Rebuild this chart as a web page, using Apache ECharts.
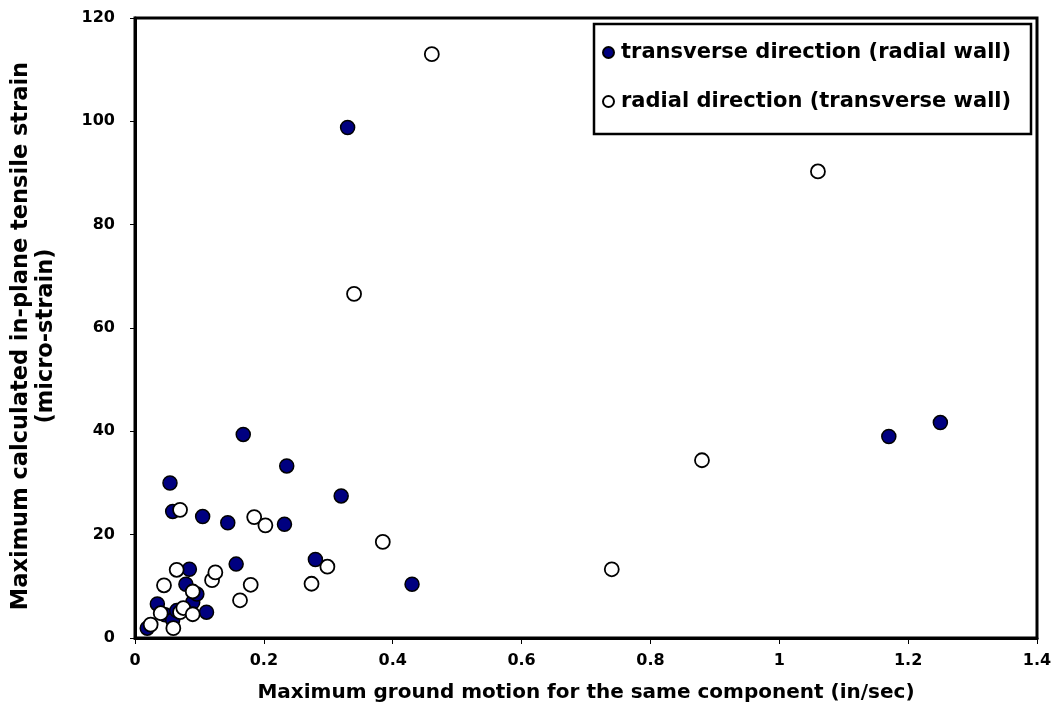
<!DOCTYPE html>
<html>
<head>
<meta charset="utf-8">
<script src="https://cdn.jsdelivr.net/npm/echarts@6/dist/echarts.min.js"></script>
<style>
html,body{margin:0;padding:0;background:#fff;}
#c{width:1055px;height:727px;}
</style>
</head>
<body>
<div id="c"></div>
<script>
// Series names
const seriesNames = ['transverse direction (radial wall)', 'radial direction (transverse wall)'];
// [ground motion (in/sec), strain (micro-strain)]
const transverseData = [
  [0.019,1.9],[0.0347,6.6],[0.0466,4.5],[0.0543,30.0],[0.0585,24.5],[0.0585,3.5],
  [0.0647,5.3],[0.079,10.4],[0.0844,13.3],[0.0896,6.9],[0.096,8.5],[0.105,23.5],
  [0.111,5.0],[0.144,22.3],[0.157,14.3],[0.168,39.4],[0.232,22.0],[0.2355,33.3],
  [0.28,15.2],[0.32,27.5],[0.33,98.8],[0.43,10.4],[1.17,39.0],[1.25,41.7]
];
const radialData = [
  [0.0243,2.6],[0.0399,4.8],[0.045,10.2],[0.0595,1.9],[0.0647,13.2],[0.0699,5.0],
  [0.0699,24.8],[0.075,5.8],[0.0896,4.6],[0.0896,9.0],[0.1196,11.2],[0.1247,12.7],
  [0.163,7.3],[0.1796,10.3],[0.185,23.4],[0.2024,21.8],[0.274,10.5],[0.2986,13.8],
  [0.34,66.6],[0.3846,18.6],[0.4607,113.0],[0.74,13.3],[0.88,34.4],[1.06,90.3]
];
const xTitle = 'Maximum ground motion for the same component (in/sec)';
const yTitle = 'Maximum calculated in-plane tensile strain\n(micro-strain)';

const FONT = 'DejaVu Sans';
const chart = echarts.init(document.getElementById('c'), null, {renderer:'canvas'});
chart.setOption({
  backgroundColor: '#fff',
  animation: false,
  grid: {left:135, right:18, top:18, bottom:89, show:true, borderColor:'#000', borderWidth:3, backgroundColor:'#fff'},
  xAxis: {
    type:'value', min:0, max:1.4, interval:0.2,
    name: xTitle, nameLocation:'middle', nameGap:45,
    nameTextStyle:{fontFamily:FONT, fontWeight:'bold', fontSize:20, color:'#000'},
    axisLine:{show:true, onZero:false, lineStyle:{color:'#000', width:3}},
    axisTick:{show:true, inside:false, length:6, lineStyle:{color:'#000', width:1}},
    axisLabel:{fontFamily:FONT, fontWeight:'bold', fontSize:16, color:'#000', margin:15,
      formatter: v => String(+v.toFixed(1))},
    splitLine:{show:false}
  },
  yAxis: {
    type:'value', min:0, max:120, interval:20,
    name: yTitle, nameLocation:'middle', nameGap:76, nameRotate:90,
    nameTextStyle:{fontFamily:FONT, fontWeight:'bold', fontSize:22.5, lineHeight:25, color:'#000', align:'center',
      padding:[0,16,0,0]},
    axisLine:{show:true, onZero:false, lineStyle:{color:'#000', width:3}},
    axisTick:{show:true, inside:false, length:5, lineStyle:{color:'#000', width:1}},
    axisLabel:{fontFamily:FONT, fontWeight:'bold', fontSize:16, color:'#000', margin:20},
    splitLine:{show:false}
  },
  graphic: [{
    type:'rect', z:5, silent:true,
    shape:{x:594, y:24, width:437, height:110},
    style:{fill:'#fff', stroke:'#000', lineWidth:2.5}
  }],
  legend: {
    orient:'vertical', left:597, top:37, itemGap:28, z:10,
    itemWidth:11, itemHeight:11, icon:'circle',
    textStyle:{fontFamily:FONT, fontWeight:'bold', fontSize:21, color:'#000', padding:[0,0,0,2]},
    data: seriesNames
  },
  series: [
    {name:seriesNames[0], type:'scatter', data:transverseData, symbol:'circle', symbolSize:14,
     itemStyle:{color:'#000080', opacity:1, borderColor:'#000', borderWidth:1.5}},
    {name:seriesNames[1], type:'scatter', data:radialData, symbol:'circle', symbolSize:14,
     itemStyle:{color:'#fff', opacity:1, borderColor:'#000', borderWidth:1.8}}
  ]
});
</script>
</body>
</html>
